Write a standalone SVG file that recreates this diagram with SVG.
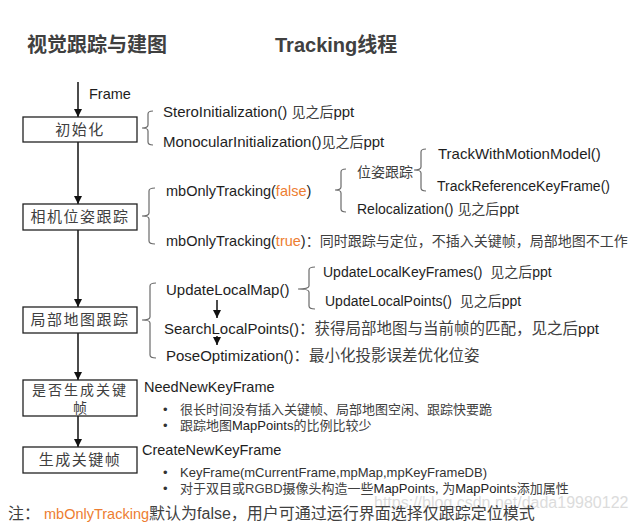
<svg xmlns="http://www.w3.org/2000/svg" width="634" height="524" viewBox="0 0 634 524">
<style>
.t{font-family:"Liberation Sans","Noto Sans CJK SC",sans-serif;font-size:14.5px;fill:#1e1e1e}
.w{font-size:15px}
.n{font-size:14px}
.h{font-family:"Liberation Sans","Noto Sans CJK SC",sans-serif;font-size:20px;font-weight:bold;fill:#404040}
.b{font-family:"Noto Sans CJK SC",sans-serif;font-size:15px;fill:#404040;letter-spacing:1.5px}
.s{font-family:"Liberation Sans","Noto Sans CJK SC",sans-serif;font-size:13px;fill:#333}
.c{fill:#404040}
.k{fill:#404040;font-size:14px}
.o{fill:#ED7D31}
.box{fill:#fff;stroke:#222;stroke-width:1.3}
.ln{stroke:#111;stroke-width:1.5;fill:none}
.br{stroke:#6a6a6a;stroke-width:1.2;fill:none}
</style>
<defs>
<marker id="ah" viewBox="0 0 10 10" refX="10" refY="5" markerWidth="8" markerHeight="8" markerUnits="userSpaceOnUse" orient="auto">
<path d="M0,0 L10,5 L0,10 z" fill="#111"/>
</marker>
</defs>
<rect width="634" height="524" fill="#fff"/>
<text class="h" x="27" y="52">视觉跟踪与建图</text>
<text class="h" x="275" y="52">Tracking线程</text>

<g id="connectors">
<line class="ln" x1="78" y1="82" x2="78" y2="117" marker-end="url(#ah)"/>
<line class="ln" x1="78" y1="142" x2="78" y2="204" marker-end="url(#ah)"/>
<line class="ln" x1="78" y1="230" x2="78" y2="307" marker-end="url(#ah)"/>
<line class="ln" x1="78" y1="333" x2="78" y2="380" marker-end="url(#ah)"/>
<line class="ln" x1="78" y1="416" x2="78" y2="447" marker-end="url(#ah)"/>
<line class="ln" x1="217" y1="300" x2="217" y2="318" marker-end="url(#ah)"/>
<line class="ln" x1="217" y1="336" x2="217" y2="345" marker-end="url(#ah)"/>
<path class="br" d="M153,111 Q148,111 148,114 L148,125 Q148,128 142,128 Q148,128 148,131 L148,142 Q148,145 153,145"/>
<path class="br" d="M155,188 Q149,188 149,191 L149,213 Q149,216 142,216 Q149,216 149,219 L149,241 Q149,244 155,244"/>
<path class="br" d="M346,169 Q341,169 341,172 L341,187 Q341,190 335,190 Q341,190 341,193 L341,209 Q341,212 346,212"/>
<path class="br" d="M426,149 Q421,149 421,152 L421,167 Q421,170 414,170 Q421,170 421,173 L421,188 Q421,191 426,191"/>
<path class="br" d="M156,283 Q150,283 150,286 L150,317 Q150,320 142,320 Q150,320 150,323 L150,355 Q150,358 156,358"/>
<path class="br" d="M315,267 Q309,267 309,270 L309,286 Q309,289 298,289 Q309,289 309,292 L309,306 Q309,309 315,309"/>
</g>

<text class="t" x="89" y="99">Frame</text>

<g id="n1">
<rect class="box" x="23" y="117" width="114" height="25"/>
<text class="b" x="80" y="135" text-anchor="middle">初始化</text>
</g>
<g id="n2">
<rect class="box" x="23" y="204" width="114" height="26"/>
<text class="b" x="80" y="222" text-anchor="middle">相机位姿跟踪</text>
</g>
<g id="n3">
<rect class="box" x="23" y="307" width="114" height="26"/>
<text class="b" x="80" y="325" text-anchor="middle">局部地图跟踪</text>
</g>
<g id="n4">
<rect class="box" x="23" y="380" width="114" height="36"/>
<text class="b" x="80" y="395" text-anchor="middle" style="font-size:14px;letter-spacing:2px">是否生成关键</text>
<text class="b" x="80" y="413" text-anchor="middle" style="font-size:14px;letter-spacing:0">帧</text>
</g>
<g id="n5">
<rect class="box" x="23" y="447" width="114" height="26"/>
<text class="b" x="80" y="465" text-anchor="middle">生成关键帧</text>
</g>

<text class="t w" x="163" y="117">SteroInitialization() <tspan class="k">见之后</tspan>ppt</text>
<text class="t w" x="163" y="147">MonocularInitialization()<tspan class="k">见之后</tspan>ppt</text>
<text class="t" x="166" y="196">mbOnlyTracking(<tspan class="o">false</tspan>)</text>
<text class="t" x="166" y="246">mbOnlyTracking(<tspan class="o">true</tspan>)<tspan class="k">：同时跟踪与定位，不插入关键帧，局部地图不工作</tspan></text>
<text class="t k" x="357" y="177">位姿跟踪</text>
<text class="t n" x="357" y="214">Relocalization() <tspan class="k">见之后</tspan>ppt</text>
<text class="t w" x="438" y="159">TrackWithMotionModel()</text>
<text class="t n" x="437" y="191">TrackReferenceKeyFrame()</text>
<text class="t w" x="166" y="295">UpdateLocalMap()</text>
<text class="t w" x="164" y="334">SearchLocalPoints()<tspan class="c" style="font-size:15.5px">：获得局部地图与当前帧的匹配，见之后</tspan>ppt</text>
<text class="t w" x="166" y="361">PoseOptimization()<tspan class="c" style="font-size:15.5px">：最小化投影误差优化位姿</tspan></text>
<text class="t n" x="323" y="277">UpdateLocalKeyFrames()&#160;&#160;<tspan class="k">见之后</tspan>ppt</text>
<text class="t n" x="325" y="306">UpdateLocalPoints()&#160;&#160;<tspan class="k">见之后</tspan>ppt</text>

<text class="t" x="144" y="392">NeedNewKeyFrame</text>
<text class="s" x="163" y="414">•</text>
<text class="s c" x="180" y="414">很长时间没有插入关键帧、局部地图空闲、跟踪快要跪</text>
<text class="s" x="163" y="430">•</text>
<text class="s c" x="180" y="430">跟踪地图<tspan fill="#222">MapPoints</tspan>的比例比较少</text>
<text class="t" x="142" y="455">CreateNewKeyFrame</text>
<text class="s" x="163" y="477">•</text>
<text class="s" x="180" y="477">KeyFrame(mCurrentFrame,mpMap,mpKeyFrameDB)</text>
<text class="s" x="163" y="493">•</text>
<text class="s c" x="180" y="493">对于双目或RGBD摄像头构造一些<tspan fill="#222">MapPoints, </tspan>为<tspan fill="#222">MapPoints</tspan>添加属性</text>

<text font-family="Liberation Sans,sans-serif" font-size="16" fill="#dcdcdc" x="374" y="508">https://blog.csdn.net/dada19980122</text>
<text class="t c" x="8" y="519" style="font-size:16px">注：<tspan x="44" class="o" style="font-size:14.5px">mbOnlyTracking</tspan>默认为false，用户可通过运行界面选择仅跟踪定位模式</text>
</svg>
